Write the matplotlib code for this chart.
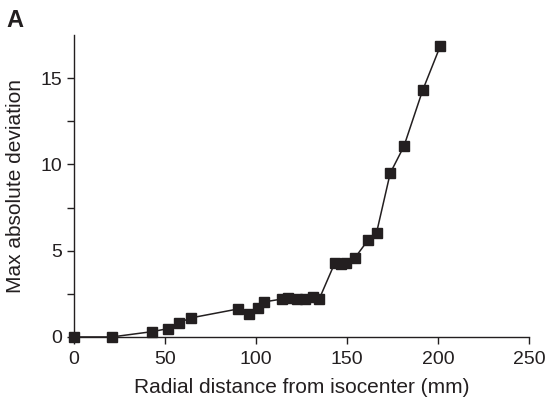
import numpy as np
import matplotlib.pyplot as plt

plt.rcParams['font.family'] = ['Liberation Sans', 'DejaVu Sans']

# distance from isocenter (mm) and max absolute deviation
dist = [0, 20.9, 43.2, 51.6, 57.5, 64.1, 90.1, 96.2, 100.9, 104.4, 114.5, 117.7,
        122.4, 127.1, 131.5, 134.8, 143.4, 146.7, 149.7, 154.2, 161.5, 166.3,
        173.8, 181.3, 191.6, 201.3]
dev = [0, 0, 0.31, 0.48, 0.81, 1.1, 1.62, 1.33, 1.68, 2.03, 2.2, 2.26,
       2.2, 2.2, 2.34, 2.2, 4.3, 4.25, 4.3, 4.56, 5.6, 6.05,
       9.5, 11.05, 14.3, 16.87]

fig = plt.figure(figsize=(5.47, 4.04), dpi=100)
ax = fig.add_axes([0.135, 0.166, 0.832, 0.747])

col = '#231f20'
ax.plot(dist, dev, '-', color=col, lw=1.1, marker='s', ms=6.5,
        mfc=col, mec=col, clip_on=False, zorder=3)

ax.set_xlim(0, 250)
ax.set_ylim(0, 17.5)
ax.set_xticks([0, 50, 100, 150, 200, 250])
ax.set_yticks([0, 5, 10, 15])
ax.set_yticks([2.5, 7.5, 12.5], minor=True)
for s in ['top', 'right']:
    ax.spines[s].set_visible(False)
for s in ['left', 'bottom']:
    ax.spines[s].set_linewidth(1.0)
    ax.spines[s].set_color(col)
ax.tick_params(which='both', direction='out', length=5, width=1.0, labelsize=14, colors=col)
ax.tick_params(axis='x', pad=5)
ax.set_xlabel('Radial distance from isocenter (mm)', fontsize=15, color=col, labelpad=7)
ax.set_ylabel('Max absolute deviation', fontsize=15, color=col, labelpad=11)

fig.text(0.012, 0.933, 'A', fontsize=17, fontweight='bold', color=col)

fig.savefig('out.png', dpi=100)
